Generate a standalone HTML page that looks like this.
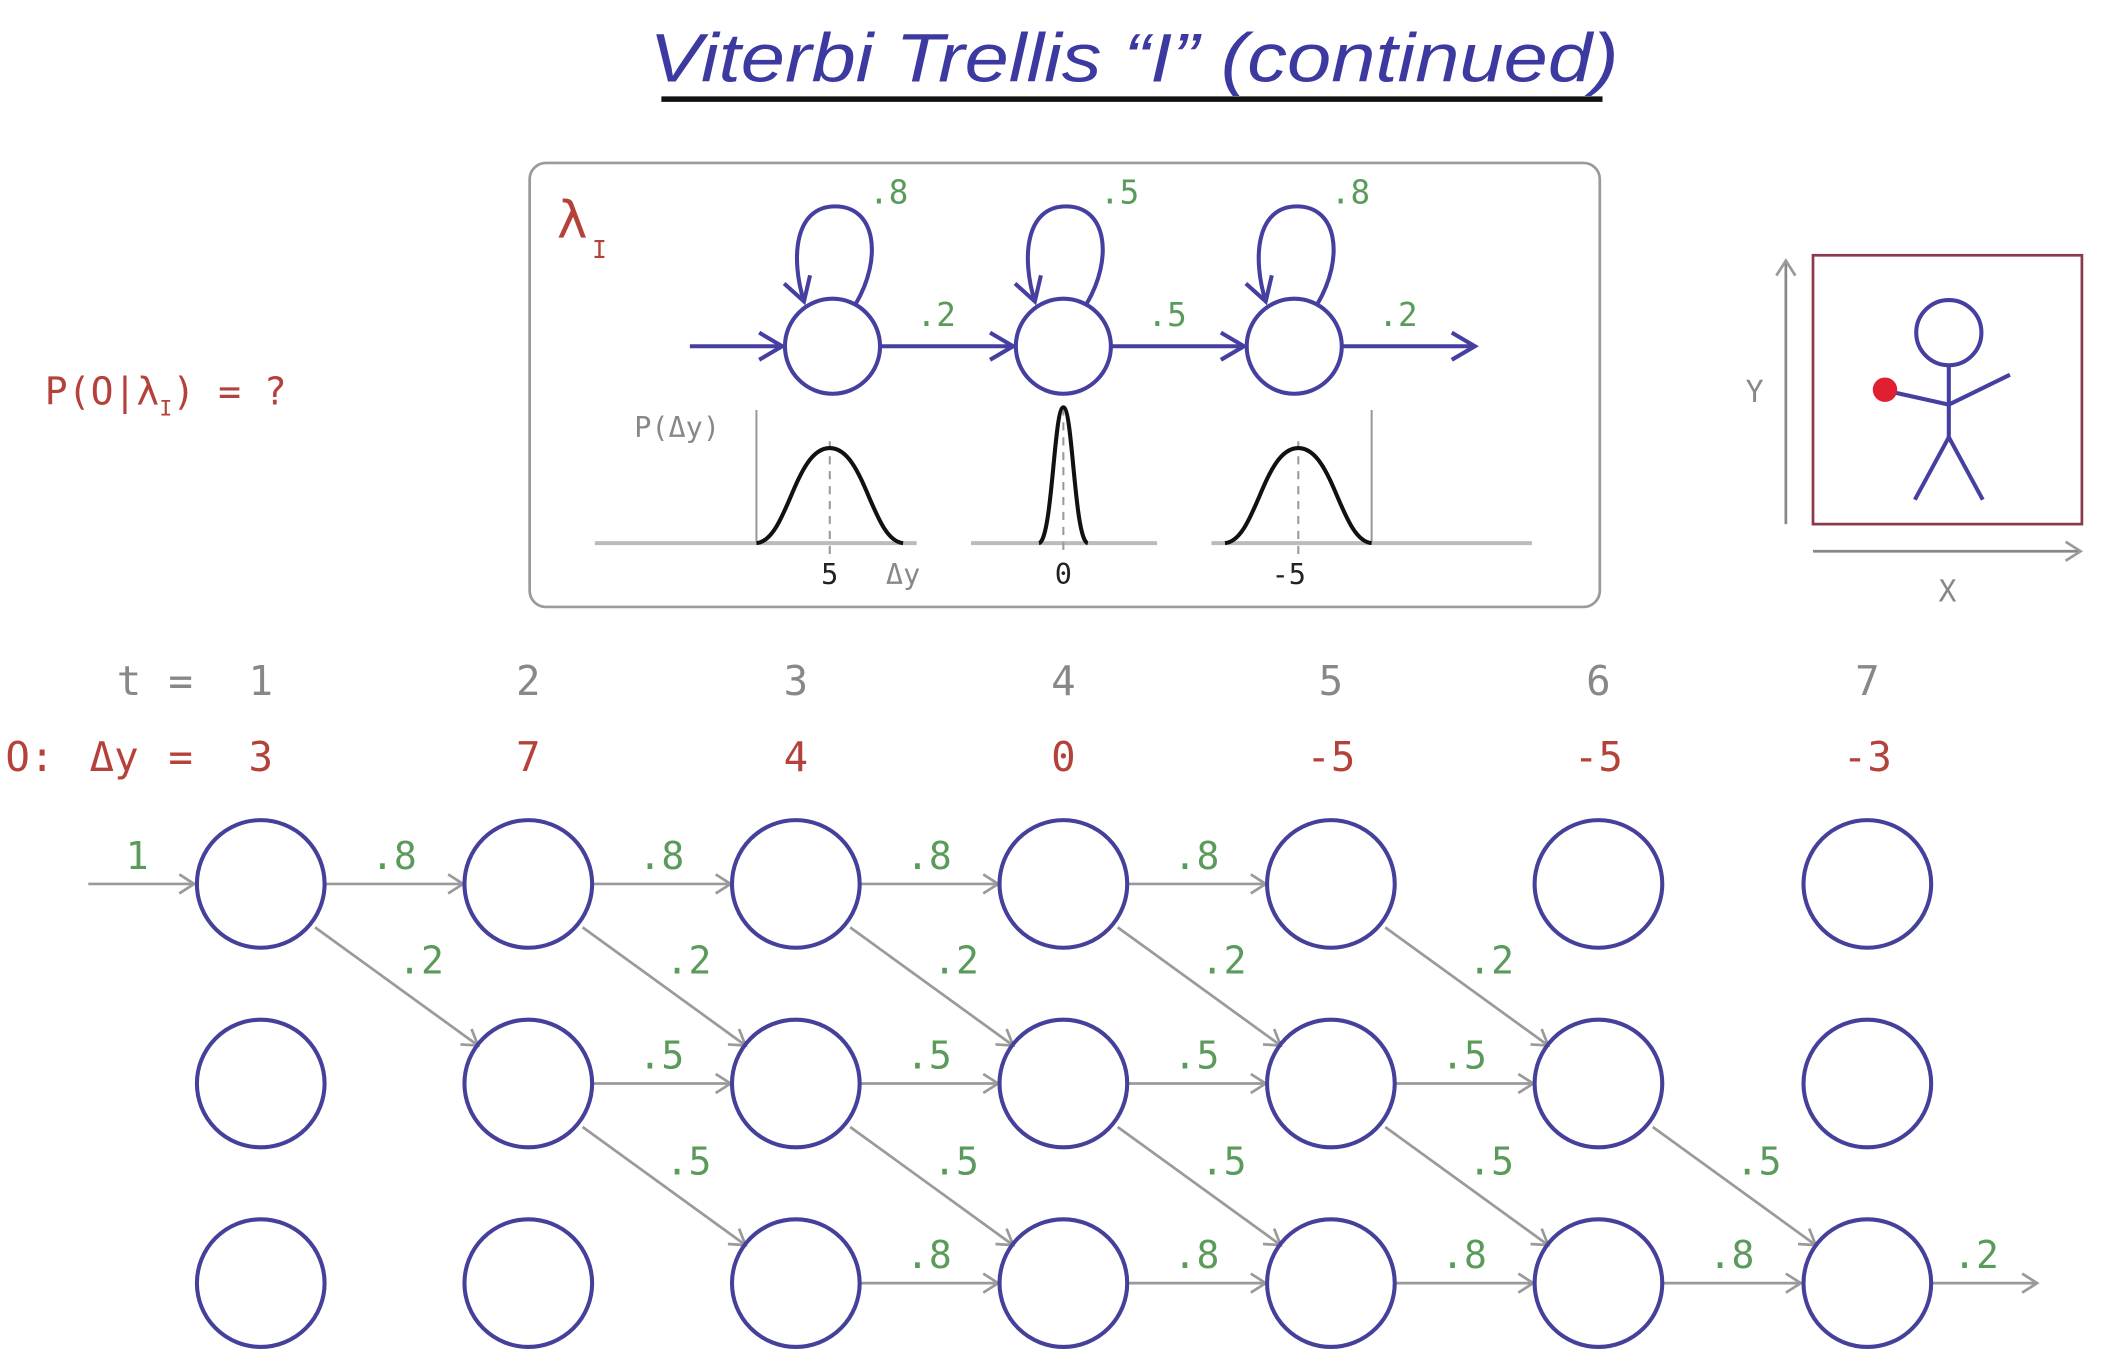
<!DOCTYPE html>
<html><head><meta charset="utf-8"><style>
html,body{margin:0;padding:0;background:#fff;}
svg{display:block}
.m{font-family:"DejaVu Sans Mono","Liberation Mono",monospace;}
</style></head><body>
<svg width="2105" height="1351" viewBox="0 0 1550 995" preserveAspectRatio="none" xmlns="http://www.w3.org/2000/svg">
<defs>
<marker id="ag" markerWidth="16" markerHeight="16" refX="13" refY="8" orient="auto" markerUnits="userSpaceOnUse">
<path d="M2,1 L13,8 L2,15" fill="none" stroke="#9a9a9a" stroke-width="2"/></marker>
<marker id="ab" markerWidth="24" markerHeight="24" refX="20" refY="12" orient="auto" markerUnits="userSpaceOnUse">
<path d="M3,2 L20,12 L3,22" fill="none" stroke="#4540a0" stroke-width="3"/></marker>
</defs>
<rect width="1550" height="995" fill="#fff"/>
<!-- title -->
<text x="835" y="57" text-anchor="middle" font-family="'Liberation Sans',sans-serif" font-style="italic" font-size="48" fill="#3c3aa0" transform="translate(835,0) scale(1.22,1.05) translate(-835,0)">Viterbi Trellis “I” (continued)</text>
<line x1="487" y1="73" x2="1180" y2="73" stroke="#111" stroke-width="4"/>
<!-- box -->
<rect x="390" y="120" width="788" height="327" rx="12" fill="none" stroke="#9a9a9a" stroke-width="2"/>
<text x="410" y="175" class="m" font-size="38" fill="#b5423a">λ</text>
<text x="436" y="190" class="m" font-size="18" fill="#b5423a">I</text>
<g stroke="#4540a0" stroke-width="3" fill="none">
<circle cx="613" cy="255" r="35"/><circle cx="783" cy="255" r="35"/><circle cx="953" cy="255" r="35"/>
<line x1="508" y1="255" x2="576" y2="255" marker-end="url(#ab)"/>
<line x1="648" y1="255" x2="746" y2="255" marker-end="url(#ab)"/>
<line x1="818" y1="255" x2="916" y2="255" marker-end="url(#ab)"/>
<line x1="988" y1="255" x2="1086" y2="255" marker-end="url(#ab)"/>
<path d="M630,224 C650,190 645,152 615,152 C585,152 582,190 592,222" marker-end="url(#ab)"/>
<path d="M800,224 C820,190 815,152 785,152 C755,152 752,190 762,222" marker-end="url(#ab)"/>
<path d="M970,224 C990,190 985,152 955,152 C925,152 922,190 932,222" marker-end="url(#ab)"/>
</g>
<g class="m" font-size="24" fill="#5a9a5a">
<text x="640" y="150">.8</text><text x="810" y="150">.5</text><text x="980" y="150">.8</text>
<text x="675" y="240">.2</text><text x="845" y="240">.5</text><text x="1015" y="240">.2</text>
</g>
<text x="467" y="322" class="m" font-size="21" fill="#888">P(Δy)</text>
<g stroke="#999" fill="none">
<line x1="557" y1="302" x2="557" y2="400" stroke-width="1.5"/>
<line x1="1010" y1="302" x2="1010" y2="400" stroke-width="1.5"/>
<line x1="438" y1="400" x2="675" y2="400" stroke-width="3" stroke="#bbb"/>
<line x1="715" y1="400" x2="852" y2="400" stroke-width="3" stroke="#bbb"/>
<line x1="892" y1="400" x2="1128" y2="400" stroke-width="3" stroke="#bbb"/>
<line x1="611" y1="325" x2="611" y2="410" stroke-dasharray="6,5" stroke-width="1.5"/>
<line x1="783" y1="300" x2="783" y2="410" stroke-dasharray="6,5" stroke-width="1.5"/>
<line x1="956" y1="325" x2="956" y2="410" stroke-dasharray="6,5" stroke-width="1.5"/>
</g>
<g stroke="#111" stroke-width="3" fill="none">
<path d="M557,400 C580,398 585,330 611,330 C637,330 642,398 665,400"/>
<path d="M765,400 C775,398 776,300 783,300 C790,300 791,398 801,400"/>
<path d="M902,400 C925,398 930,330 956,330 C982,330 987,398 1010,400"/>
</g>
<g class="m" font-size="21" fill="#222" text-anchor="middle">
<text x="611" y="430">5</text><text x="665" y="430" fill="#888">Δy</text><text x="783" y="430">0</text><text x="949" y="430">-5</text>
</g>
<text x="33" y="298" class="m" font-size="28" fill="#b5423a">P(O|λ<tspan font-size="16" dy="8">I</tspan><tspan dy="-8">) = ?</tspan></text>
<!-- stick figure -->
<rect x="1335" y="188" width="198" height="198" fill="none" stroke="#8a3a4a" stroke-width="2"/>
<line x1="1315" y1="386" x2="1315" y2="192" stroke="#888" stroke-width="2" marker-end="url(#ag)"/>
<line x1="1335" y1="406" x2="1532" y2="406" stroke="#888" stroke-width="2" marker-end="url(#ag)"/>
<text x="1292" y="296" class="m" font-size="22" fill="#888" text-anchor="middle">Y</text>
<text x="1434" y="443" class="m" font-size="22" fill="#888" text-anchor="middle">X</text>
<g stroke="#4540a0" stroke-width="3" fill="none">
<circle cx="1435" cy="245" r="24"/>
<line x1="1435" y1="269" x2="1435" y2="322"/>
<line x1="1435" y1="322" x2="1410" y2="368"/><line x1="1435" y1="322" x2="1460" y2="368"/>
<line x1="1435" y1="298" x2="1390" y2="288"/><line x1="1435" y1="298" x2="1480" y2="276"/>
</g>
<circle cx="1388" cy="287" r="9" fill="#e02030"/>
<!-- headers -->
<g class="m" font-size="30" fill="#888" text-anchor="middle">
<text x="95" y="512">t</text><text x="133" y="512">=</text>
<text x="192" y="512">1</text><text x="389" y="512">2</text><text x="586" y="512">3</text><text x="783" y="512">4</text><text x="980" y="512">5</text><text x="1177" y="512">6</text><text x="1375" y="512">7</text>
</g>
<g class="m" font-size="30" fill="#b5423a" text-anchor="middle">
<text x="22" y="568">O:</text><text x="84" y="568">Δy</text><text x="133" y="568">=</text>
<text x="192" y="568">3</text><text x="389" y="568">7</text><text x="586" y="568">4</text><text x="783" y="568">0</text><text x="980" y="568">-5</text><text x="1177" y="568">-5</text><text x="1375" y="568">-3</text>
</g>
<!-- trellis arrows -->
<g stroke="#9a9a9a" stroke-width="2" fill="none" marker-end="url(#ag)">
<line x1="65" y1="651" x2="143" y2="651"/>
<line x1="240" y1="651" x2="341" y2="651"/><line x1="437" y1="651" x2="538" y2="651"/><line x1="634" y1="651" x2="735" y2="651"/><line x1="831" y1="651" x2="932" y2="651"/>
<line x1="232" y1="683" x2="352" y2="770"/><line x1="429" y1="683" x2="549" y2="770"/><line x1="626" y1="683" x2="746" y2="770"/><line x1="823" y1="683" x2="943" y2="770"/><line x1="1020" y1="683" x2="1140" y2="770"/>
<line x1="437" y1="798" x2="538" y2="798"/><line x1="634" y1="798" x2="735" y2="798"/><line x1="831" y1="798" x2="932" y2="798"/><line x1="1028" y1="798" x2="1129" y2="798"/>
<line x1="429" y1="830" x2="549" y2="917"/><line x1="626" y1="830" x2="746" y2="917"/><line x1="823" y1="830" x2="943" y2="917"/><line x1="1020" y1="830" x2="1140" y2="917"/><line x1="1217" y1="830" x2="1337" y2="917"/>
<line x1="634" y1="945" x2="735" y2="945"/><line x1="831" y1="945" x2="932" y2="945"/><line x1="1028" y1="945" x2="1129" y2="945"/><line x1="1225" y1="945" x2="1326" y2="945"/>
<line x1="1422" y1="945" x2="1500" y2="945"/>
</g>
<g class="m" font-size="28" fill="#5a9a5a" text-anchor="middle">
<text x="101" y="640">1</text>
<text x="290" y="640">.8</text><text x="487" y="640">.8</text><text x="684" y="640">.8</text><text x="881" y="640">.8</text>
<text x="310" y="717">.2</text><text x="507" y="717">.2</text><text x="704" y="717">.2</text><text x="901" y="717">.2</text><text x="1098" y="717">.2</text>
<text x="487" y="787">.5</text><text x="684" y="787">.5</text><text x="881" y="787">.5</text><text x="1078" y="787">.5</text>
<text x="507" y="865">.5</text><text x="704" y="865">.5</text><text x="901" y="865">.5</text><text x="1098" y="865">.5</text><text x="1295" y="865">.5</text>
<text x="684" y="934">.8</text><text x="881" y="934">.8</text><text x="1078" y="934">.8</text><text x="1275" y="934">.8</text><text x="1455" y="934">.2</text>
</g>
<g stroke="#45409a" stroke-width="3" fill="none">
<ellipse cx="192" cy="651" rx="47" ry="47"/><ellipse cx="389" cy="651" rx="47" ry="47"/><ellipse cx="586" cy="651" rx="47" ry="47"/><ellipse cx="783" cy="651" rx="47" ry="47"/><ellipse cx="980" cy="651" rx="47" ry="47"/><ellipse cx="1177" cy="651" rx="47" ry="47"/><ellipse cx="1375" cy="651" rx="47" ry="47"/>
<ellipse cx="192" cy="798" rx="47" ry="47"/><ellipse cx="389" cy="798" rx="47" ry="47"/><ellipse cx="586" cy="798" rx="47" ry="47"/><ellipse cx="783" cy="798" rx="47" ry="47"/><ellipse cx="980" cy="798" rx="47" ry="47"/><ellipse cx="1177" cy="798" rx="47" ry="47"/><ellipse cx="1375" cy="798" rx="47" ry="47"/>
<ellipse cx="192" cy="945" rx="47" ry="47"/><ellipse cx="389" cy="945" rx="47" ry="47"/><ellipse cx="586" cy="945" rx="47" ry="47"/><ellipse cx="783" cy="945" rx="47" ry="47"/><ellipse cx="980" cy="945" rx="47" ry="47"/><ellipse cx="1177" cy="945" rx="47" ry="47"/><ellipse cx="1375" cy="945" rx="47" ry="47"/>
</g>
</svg>
</body></html>
